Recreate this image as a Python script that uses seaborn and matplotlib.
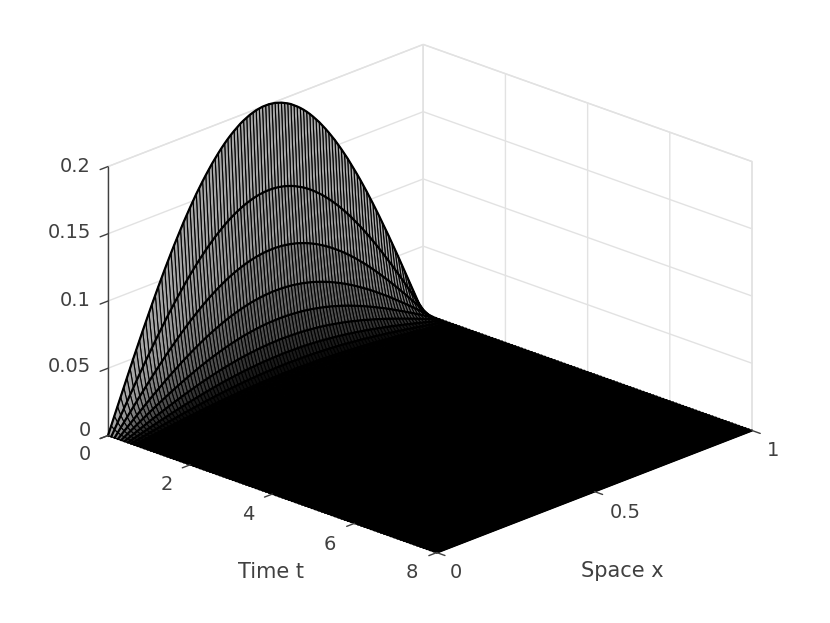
import numpy as np
import matplotlib
matplotlib.use("Agg")
import matplotlib.pyplot as plt
import seaborn as sns
from mpl_toolkits.mplot3d import proj3d

# Values
time_t = [0.0, 0.08, 0.16, 0.24, 0.32, 0.4, 0.48, 0.56, 0.64, 0.72,
          0.8, 0.88, 0.96, 1.04, 1.12, 1.2, 1.28, 1.36, 1.44, 1.52,
          1.6, 1.68, 1.76, 1.84, 1.92, 2.0, 2.08, 2.16, 2.24, 2.32,
          2.4, 2.48, 2.56, 2.64, 2.72, 2.8, 2.88, 2.96, 3.04, 3.12,
          3.2, 3.28, 3.36, 3.44, 3.52, 3.6, 3.68, 3.76, 3.84, 3.92,
          4.0, 4.08, 4.16, 4.24, 4.32, 4.4, 4.48, 4.56, 4.64, 4.72,
          4.8, 4.88, 4.96, 5.04, 5.12, 5.2, 5.28, 5.36, 5.44, 5.52,
          5.6, 5.68, 5.76, 5.84, 5.92, 6.0, 6.08, 6.16, 6.24, 6.32,
          6.4, 6.48, 6.56, 6.64, 6.72, 6.8, 6.88, 6.96, 7.04, 7.12,
          7.2, 7.28, 7.36, 7.44, 7.52, 7.6, 7.68, 7.76, 7.84, 7.92, 8.0]
# height of each time row at x = 0.5; flat after the first rows
peak_height = [0.2, 0.138, 0.095, 0.065, 0.045, 0.031, 0.0214, 0.0148, 0.0102, 0.007,
               0.0049, 0.0034, 0.0023, 0.0016, 0.0011, 0.00076, 0.00052, 0.00036, 0.00025, 0.00017,
               0.00012, 0.00008, 0.00005, 0.00003] + [0.0] * 77
space_x = [0.0, 0.01, 0.02, 0.03, 0.04, 0.05, 0.06, 0.07, 0.08, 0.09,
           0.1, 0.11, 0.12, 0.13, 0.14, 0.15, 0.16, 0.17, 0.18, 0.19,
           0.2, 0.21, 0.22, 0.23, 0.24, 0.25, 0.26, 0.27, 0.28, 0.29,
           0.3, 0.31, 0.32, 0.33, 0.34, 0.35, 0.36, 0.37, 0.38, 0.39,
           0.4, 0.41, 0.42, 0.43, 0.44, 0.45, 0.46, 0.47, 0.48, 0.49,
           0.5, 0.51, 0.52, 0.53, 0.54, 0.55, 0.56, 0.57, 0.58, 0.59,
           0.6, 0.61, 0.62, 0.63, 0.64, 0.65, 0.66, 0.67, 0.68, 0.69,
           0.7, 0.71, 0.72, 0.73, 0.74, 0.75, 0.76, 0.77, 0.78, 0.79,
           0.8, 0.81, 0.82, 0.83, 0.84, 0.85, 0.86, 0.87, 0.88, 0.89,
           0.9, 0.91, 0.92, 0.93, 0.94, 0.95, 0.96, 0.97, 0.98, 0.99, 1.0]
# profile across x, relative to the height at x = 0.5
profile = [0.0, 0.031, 0.063, 0.094, 0.125, 0.156, 0.187, 0.218, 0.249, 0.279,
           0.309, 0.339, 0.368, 0.397, 0.426, 0.454, 0.482, 0.509, 0.536, 0.562,
           0.588, 0.613, 0.637, 0.661, 0.685, 0.707, 0.729, 0.75, 0.771, 0.79,
           0.809, 0.827, 0.844, 0.861, 0.876, 0.891, 0.905, 0.918, 0.93, 0.941,
           0.951, 0.96, 0.969, 0.976, 0.982, 0.988, 0.992, 0.996, 0.998, 1.0,
           1.0, 1.0, 0.998, 0.996, 0.992, 0.988, 0.982, 0.976, 0.969, 0.96,
           0.951, 0.941, 0.93, 0.918, 0.905, 0.891, 0.876, 0.861, 0.844, 0.827,
           0.809, 0.79, 0.771, 0.75, 0.729, 0.707, 0.685, 0.661, 0.637, 0.613,
           0.588, 0.562, 0.536, 0.509, 0.482, 0.454, 0.426, 0.397, 0.368, 0.339,
           0.309, 0.279, 0.249, 0.218, 0.187, 0.156, 0.125, 0.094, 0.063, 0.031, 0.0]
row_grey = [0.65, 0.6, 0.5, 0.4, 0.3, 0.2, 0.1, 0.05] + [0.0] * 93

t_ticks = [0, 2, 4, 6, 8]
x_ticks = [0, 0.5, 1]
z_ticks = [0, 0.05, 0.1, 0.15, 0.2]

sns.set_theme(style="white", rc={
    "font.family": "DejaVu Sans",
    "grid.color": "#e2e2e2",
    "grid.linewidth": 1.0,
})

fig = plt.figure(figsize=(8.3, 6.23), dpi=100)
ax = fig.add_axes([0, 0, 1, 1], projection="3d", computed_zorder=False)
ax.set_proj_type("ortho")
ax.view_init(elev=21.8, azim=-46.2)
ax.set_box_aspect((1, 1, 0.636))
ax.patch.set_alpha(0)

T, X = np.meshgrid(time_t, space_x, indexing="ij")
U = np.outer(peak_height, profile)

grey = np.array(row_grey)[:, None, None] * np.ones((len(time_t), len(space_x), 3))
surf = ax.plot_surface(T, X, U, rstride=1, cstride=1, facecolors=grey, shade=False, zorder=1)
surf.set_edgecolor("black")
surf.set_linewidth(0.8)

for i in range(len(time_t)):
    ax.plot(T[i], X[i], U[i], color="black", lw=1.6, zorder=2)

ax.set_xlim(0, 8, view_margin=0)
ax.set_ylim(0, 1, view_margin=0)
ax.set_zlim(0, 0.2, view_margin=0)
ax.set_xticks(t_ticks)
ax.set_yticks(x_ticks)
ax.set_zticks(z_ticks)
ax.set_xticklabels([])
ax.set_yticklabels([])
ax.set_zticklabels([])

for axis in [ax.xaxis, ax.yaxis, ax.zaxis]:
    axis.set_pane_color((1, 1, 1, 1))
    axis.pane.set_edgecolor("#e2e2e2")
    axis.line.set_color("#404040")
    axis.line.set_linewidth(1.0)
    axis._axinfo["tick"]["inward_factor"] = 0.0
    axis._axinfo["tick"]["outward_factor"] = 0.0
ax.zaxis.set_ticks_position("lower")

# tick stubs as in the reference, pointing out of the box
tick_kw = dict(color="#404040", lw=1.0, zorder=3)
for tick in t_ticks:
    ax.plot([tick, tick], [-0.025, 0], [0, 0], **tick_kw)
for tick in x_ticks:
    ax.plot([8, 8.2], [tick, tick], [0, 0], **tick_kw)
for tick in z_ticks:
    ax.plot([0, 0], [-0.025, 0], [tick, tick], **tick_kw)

# fit the 3D box onto the same pixels as the reference
fig.canvas.draw()
def box_xy(t, x, z):
    px, py, _ = proj3d.proj_transform(t, x, z, ax.get_proj())
    return px, py
x0, y0 = box_xy(0, 0, 0)
x1, _ = box_xy(8, 1, 0)
_, y1 = box_xy(0, 0, 0.2)
vl = ax.viewLim
w = (752 - 108) / 830 / ((x1 - x0) / vl.width)
h = (436 - 166) / 623 / ((y1 - y0) / vl.height)
left = 108 / 830 - w * (x0 - vl.x0) / vl.width
bottom = (623 - 436) / 623 - h * (y0 - vl.y0) / vl.height
ax.set_position([left, bottom, w, h])


def label(px, py, text, size=14, ha="center"):
    fig.text(px / 830, 1 - py / 623, text, fontsize=size, color="#404040", ha=ha, va="center")


for py, tick in zip([431, 366, 300, 233, 166], z_ticks):
    label(91, py, f"{tick:g}", ha="right")
for (px, py), tick in zip([(85, 454), (167, 484), (248, 514), (330, 544), (412, 573)], t_ticks):
    label(px, py, f"{tick:g}")
for (px, py), tick in zip([(456, 573), (625, 512), (773, 451)], x_ticks):
    label(px, py, f"{tick:g}")
label(271, 572, "Time t", size=15)
label(622, 571, "Space x", size=15)

fig.savefig("out.png", dpi=100, facecolor="white")
